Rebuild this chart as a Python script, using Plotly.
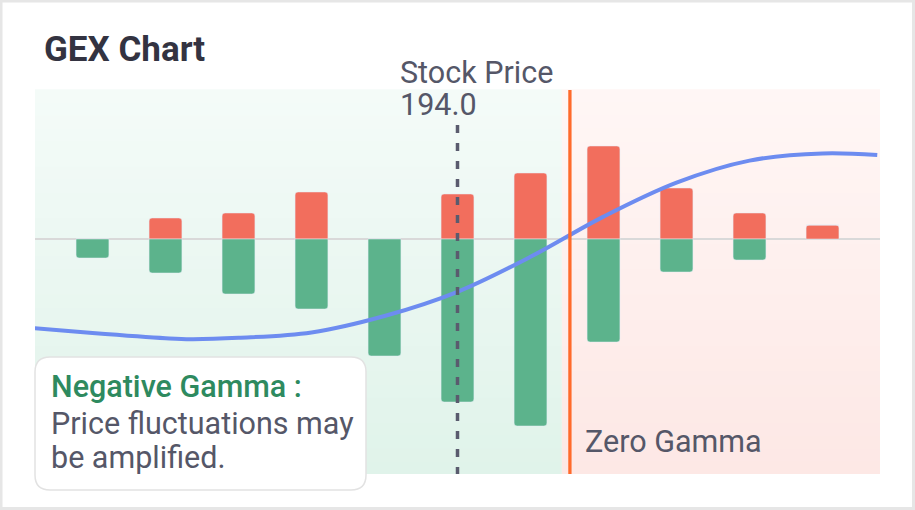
import plotly.graph_objects as go

# strikes and gamma exposure (arbitrary units)
strikes = [184, 186, 188, 190, 192, 194, 196, 198, 200, 202, 204]
call_gex = [0, 10.5, 13, 23.5, 0, 22.5, 33, 46.5, 25.5, 13, 7]
put_gex = [-9.5, -17, -27.5, -35, -58.5, -81.5, -93.5, -51.5, -16.5, -10.5, 0]

# cumulative gamma curve
curve_x = [182.42, 184, 186, 186.7, 188, 190, 192, 194, 196, 198, 200, 202, 204, 205.5]
curve_y = [-44.6, -47, -49.6, -50.1, -49.4, -46.7, -38.5, -26.4, -8.9, 11.2, 28.2, 39.2, 42.8, 42]

stock_price = 194.0
zero_gamma = 197.08

x_range = [182.425, 205.575]
y_range = [-117.5, 74.5]

W, H = 915, 510
ML, MR, MT, MB = 35, 35, 90, 36
PW, PH = W - ML - MR, H - MT - MB

RED = "#f26e5d"
GREEN = "#5cb38c"
TEXT = "#555768"
FONT = "Roboto"
FS = 30.5


def px(x):
    return (x - ML) / PW


def py(y):
    return (H - MB - y) / PH


def mix(c1, c2, t):
    return "rgb(%d,%d,%d)" % tuple(round(a + (b - a) * t) for a, b in zip(c1, c2))


fig = go.Figure()

fig.add_trace(go.Bar(x=strikes, y=call_gex, marker_color=RED, width=0.9, name="Call GEX"))
fig.add_trace(go.Bar(x=strikes, y=put_gex, marker_color=GREEN, width=0.9, name="Put GEX"))
fig.add_trace(go.Scatter(x=curve_x, y=curve_y, mode="lines",
                         line=dict(color="#6d8cf0", width=4, shape="spline", smoothing=1.0),
                         name="Gamma"))

shapes = []
# gradient backgrounds (stacked strips)
n = 30
green_split = zero_gamma - 0.22
for i in range(n):
    t = i / (n - 1)
    y0 = i / n
    y1 = (i + 1) / n + 0.002
    shapes.append(dict(type="rect", xref="x", yref="paper", x0=x_range[0], x1=green_split,
                       y0=y0, y1=y1, fillcolor=mix((224, 243, 234), (244, 251, 248), t),
                       line_width=0, layer="below"))
    shapes.append(dict(type="rect", xref="x", yref="paper", x0=green_split, x1=x_range[1],
                       y0=y0, y1=y1, fillcolor=mix((253, 232, 229), (255, 246, 245), t),
                       line_width=0, layer="below"))

# stock price and zero gamma lines
shapes.append(dict(type="line", xref="x", yref="paper", x0=stock_price, x1=stock_price,
                   y0=py(125), y1=0, line=dict(color="#5a5b6e", width=3.5, dash="8px,10px")))
shapes.append(dict(type="line", xref="x", yref="paper", x0=zero_gamma, x1=zero_gamma,
                   y0=0, y1=1, line=dict(color="#ff6a2b", width=3.3)))

# rounded note box
bx0, by0, bx1, by1, r = 35, 357, 366, 490, 15
path = (f"M {px(bx0 + r)},{py(by0)} L {px(bx1 - r)},{py(by0)} "
        f"Q {px(bx1)},{py(by0)} {px(bx1)},{py(by0 + r)} L {px(bx1)},{py(by1 - r)} "
        f"Q {px(bx1)},{py(by1)} {px(bx1 - r)},{py(by1)} L {px(bx0 + r)},{py(by1)} "
        f"Q {px(bx0)},{py(by1)} {px(bx0)},{py(by1 - r)} L {px(bx0)},{py(by0 + r)} "
        f"Q {px(bx0)},{py(by0)} {px(bx0 + r)},{py(by0)} Z")
shapes.append(dict(type="path", xref="paper", yref="paper", path=path,
                   fillcolor="white", line=dict(color="#e2e2e2", width=1.5)))

# outer frame
shapes.append(dict(type="rect", xref="paper", yref="paper",
                   x0=px(1), x1=px(913.5), y0=py(1), y1=py(508.5),
                   line=dict(color="#e6e6e6", width=3)))

annotations = [
    dict(text="<b>GEX Chart</b>", x=px(42), y=py(50), font=dict(family=FONT, size=35, color="#333341")),
    dict(text="Stock Price", x=px(398), y=py(72.5), font=dict(family=FONT, size=FS, color=TEXT)),
    dict(text="194.0", x=px(398), y=py(104.5), font=dict(family=FONT, size=FS, color=TEXT)),
    dict(text="Zero Gamma", x=px(583), y=py(441), font=dict(family=FONT, size=FS, color=TEXT)),
    dict(text="Negative Gamma :", x=px(49), y=py(386),
         font=dict(family=FONT, size=FS, color="#2e8a5f", weight=500)),
    dict(text="Price fluctuations may", x=px(49), y=py(423.5), font=dict(family=FONT, size=FS, color=TEXT)),
    dict(text="be amplified.", x=px(49), y=py(457), font=dict(family=FONT, size=FS, color=TEXT)),
]
for a in annotations:
    a.update(xref="paper", yref="paper", showarrow=False, xanchor="left", yanchor="middle")

fig.update_layout(
    width=W, height=H,
    margin=dict(l=ML, r=MR, t=MT, b=MB),
    paper_bgcolor="white", plot_bgcolor="white",
    barmode="relative", barcornerradius=3,
    showlegend=False,
    shapes=shapes, annotations=annotations,
    xaxis=dict(range=x_range, showgrid=False, zeroline=False, showticklabels=False,
               ticks="", fixedrange=True),
    yaxis=dict(range=y_range, showgrid=False, zeroline=True, zerolinecolor="#d9d9d9",
               zerolinewidth=2, showticklabels=False, ticks="", fixedrange=True),
)

fig.write_html("out.html", config={"displayModeBar": False},
               post_script="document.body.style.margin='0';document.body.style.padding='0';")
